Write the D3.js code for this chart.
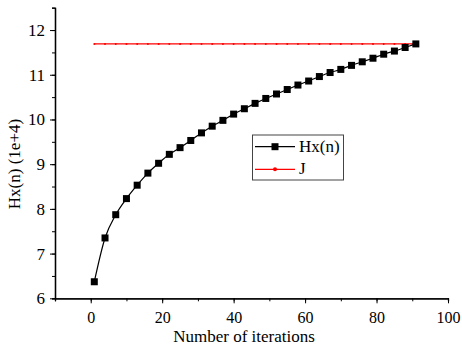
<!DOCTYPE html>
<html>
<head>
    <meta charset="utf-8">
    <style>
        body { margin: 0; background: #fff; }
        svg { display: block; }
        .axis line, .axis path { stroke: #000; }
        .lbl {
            font-family: 'Liberation Serif', 'Times New Roman', 'DejaVu Serif', serif;
            font-size: 17px;
            fill: #000;
        }
    </style>
</head>
<body>
<svg width="462" height="351"></svg>
<script src="https://d3js.org/d3.v7.min.js"></script>
<script>
    // iterations and values
    let iterations = d3.range(1, 92, 3) // 1, 4, 7 ... 91
    let hx = [6.37, 7.35, 7.87, 8.23, 8.53, 8.80, 9.02, 9.22, 9.37, 9.53,
              9.70, 9.85, 9.98, 10.12, 10.24, 10.36, 10.47, 10.57, 10.67, 10.77,
              10.86, 10.96, 11.05, 11.12, 11.21, 11.29, 11.37, 11.46, 11.53, 11.61,
              11.69]
    let jValue = 11.69
    let xTicks = [0, 20, 40, 60, 80, 100]
    let yTicks = [6, 7, 8, 9, 10, 11, 12]
    let seriesNames = ["Hx(n)", "J"]

    let serif = "'Liberation Serif', 'Times New Roman', 'DejaVu Serif', serif"
    let svg = d3.select("svg")

    let x = d3.scaleLinear().domain([-10, 100]).range([55, 448])
    let y = d3.scaleLinear().domain([6, 12.5]).range([298.3, 7.7])

    let hxData = iterations.map((it, i) => ({ x: it, y: hx[i] }))
    let jData = iterations.map(it => ({ x: it, y: jValue }))

    // minor ticks
    svg.append("g")
        .attr("class", "axis")
        .attr("transform", "translate(0,298.3)")
        .call(d3.axisBottom(x).tickValues(d3.range(-10, 101, 10)).tickSize(3).tickFormat(""))
    svg.append("g")
        .attr("class", "axis")
        .attr("transform", "translate(55,0)")
        .call(d3.axisLeft(y).tickValues(d3.range(6, 12.51, 0.5)).tickSize(3).tickFormat(""))

    // major ticks
    let xAxis = svg.append("g")
        .attr("class", "axis")
        .attr("transform", "translate(0,298.3)")
        .call(d3.axisBottom(x).tickValues(xTicks).tickSize(5).tickSizeOuter(0)
            .tickPadding(8).tickFormat(d3.format("d")))
    let yAxis = svg.append("g")
        .attr("class", "axis")
        .attr("transform", "translate(55,0)")
        .call(d3.axisLeft(y).tickValues(yTicks).tickSize(5).tickSizeOuter(0)
            .tickPadding(5).tickFormat(d3.format("d")))

    svg.selectAll(".axis")
        .attr("font-family", serif)
        .attr("font-size", 17)
    xAxis.attr("font-size", 16)
    svg.selectAll(".axis text").style("fill", "#000")
    svg.selectAll(".axis .domain").style("stroke-width", "1.3px")

    // J line (red, small dots)
    let line = d3.line().x(d => x(d.x)).y(d => y(d.y))
    svg.append("path")
        .datum(jData)
        .attr("d", line)
        .style("fill", "none")
        .style("stroke", "#ff0000")
        .style("stroke-width", "1.2px")
    svg.append("g")
        .selectAll("circle")
        .data(jData)
        .join("circle")
        .attr("cx", d => x(d.x))
        .attr("cy", d => y(d.y))
        .attr("r", 1)
        .style("fill", "#ff0000")

    // Hx(n) curve
    let curve = d3.line().curve(d3.curveMonotoneX).x(d => x(d.x)).y(d => y(d.y))
    svg.append("path")
        .datum(hxData)
        .attr("d", curve)
        .style("fill", "none")
        .style("stroke", "#000")
        .style("stroke-width", "1.2px")
    svg.append("g")
        .selectAll("rect")
        .data(hxData)
        .join("rect")
        .attr("x", d => x(d.x) - 3.5)
        .attr("y", d => y(d.y) - 3.5)
        .attr("width", 7)
        .attr("height", 7)
        .style("fill", "#000")

    // axis titles
    svg.append("text")
        .attr("class", "lbl")
        .attr("x", 244)
        .attr("y", 342)
        .style("text-anchor", "middle")
        .text("Number of iterations")
    svg.append("text")
        .attr("class", "lbl")
        .attr("transform", "translate(20,164) rotate(-90)")
        .style("text-anchor", "middle")
        .text("Hx(n) (1e+4)")

    // legend
    let legend = svg.append("g")
    legend.append("rect")
        .attr("x", 252.5).attr("y", 135)
        .attr("width", 91).attr("height", 45)
        .style("fill", "#fff")
        .style("stroke", "#444")
        .style("stroke-width", "1px")
    let rows = [146.7, 169.3]
    seriesNames.forEach((name, i) => {
        let ly = rows[i]
        let color = i == 0 ? "#000" : "#ff0000"
        legend.append("line")
            .attr("x1", 255).attr("x2", 295)
            .attr("y1", ly).attr("y2", ly)
            .style("stroke", color)
            .style("stroke-width", "1.2px")
        if (i == 0) {
            legend.append("rect")
                .attr("x", 271.5).attr("y", ly - 3.5)
                .attr("width", 7).attr("height", 7)
                .style("fill", "#000")
        } else {
            legend.append("circle")
                .attr("cx", 275).attr("cy", ly).attr("r", 2)
                .style("fill", "#ff0000")
        }
        legend.append("text")
            .attr("class", "lbl")
            .attr("x", 299)
            .attr("y", ly + 5)
            .text(name)
    })
</script>
</body>
</html>
